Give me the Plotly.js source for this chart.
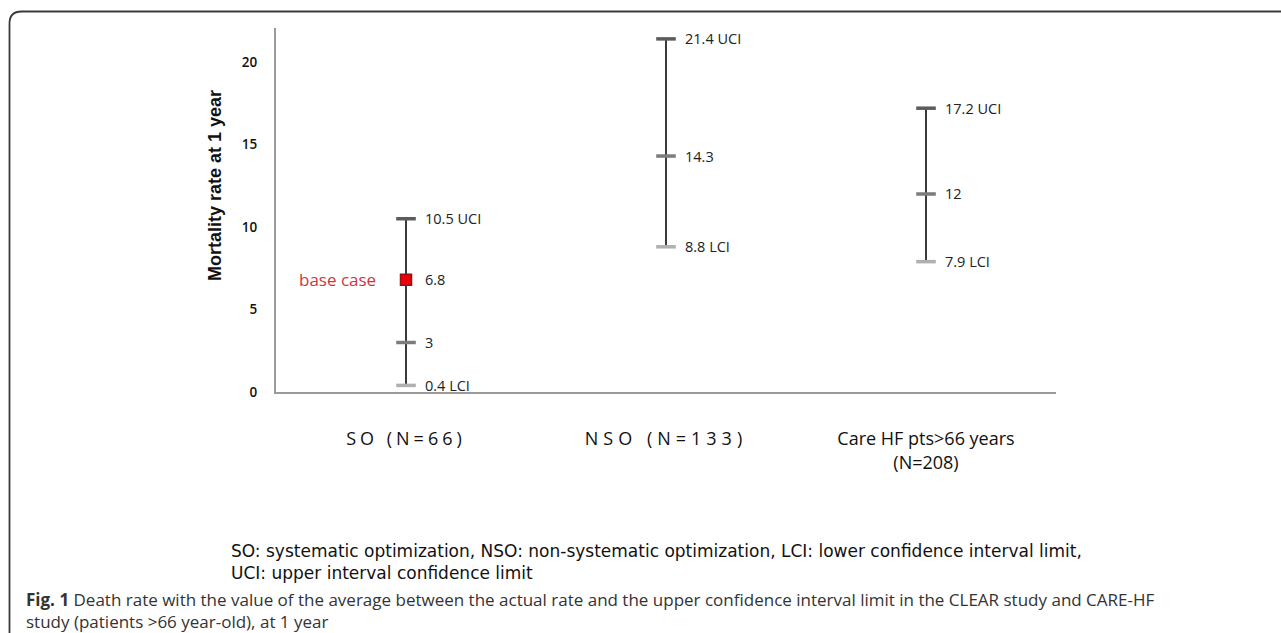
<!DOCTYPE html>
<html>
<head>
<meta charset="utf-8">
<script src="https://cdn.plot.ly/plotly-3.0.1.min.js"></script>
<style>
  html, body { margin: 0; padding: 0; background: #fff; }
  #chart { width: 1281px; height: 633px; }
</style>
</head>
<body>
<div id="chart"></div>
<script>
// ---- data ----
const categories = ['SO (N=66)', 'NSO (N=133)', 'Care HF pts>66 years<br>(N=208)'];
const uciValues = [10.5, 21.4, 17.2];
const rateValues = [3, 14.3, 12];
const lciValues = [0.4, 8.8, 7.9];
const uciLabels = ['10.5 UCI', '21.4 UCI', '17.2 UCI'];
const rateLabels = ['3', '14.3', '12'];
const lciLabels = ['0.4 LCI', '8.8 LCI', '7.9 LCI'];
const baseCaseCategory = ['SO (N=66)'];
const baseCaseValue = [6.8];
const baseCaseLabel = ['6.8'];
const yTickVals = [0, 5, 10, 15, 20];
const yTitle = 'Mortality rate at 1 year';
const legendLines = ['SO: systematic optimization, NSO: non-systematic optimization, LCI: lower confidence interval limit,',
                     'UCI: upper interval confidence limit'];
const figLines = ['<b>Fig. 1</b> Death rate with the value of the average between the actual rate and the upper confidence interval limit in the CLEAR study and CARE-HF',
                  'study (patients >66 year-old), at 1 year'];

// ---- geometry helpers (pixel -> paper) ----
const L = 276, R = 1056, T = 28, B = 392;
const W = R - L, H = B - T;
const px = p => (p - L) / W;
const py = p => (B - p) / H;

const labelFont = {family: 'Open Sans, sans-serif', size: 14.5, color: '#222'};

const traces = [
  { // whisker line
    type: 'scatter', mode: 'markers', x: categories,
    y: lciValues,
    marker: {size: 1, color: 'rgba(0,0,0,0)'},
    error_y: {type: 'data', symmetric: false,
      array: uciValues.map((u, i) => u - lciValues[i]),
      arrayminus: lciValues.map(() => 0),
      color: '#3a3a3a', thickness: 2, width: 0},
    hoverinfo: 'skip', showlegend: false
  },
  { type: 'scatter', mode: 'markers', x: categories, y: uciValues,
    marker: {symbol: 'line-ew', size: 14, line: {width: 3.5, color: '#5c5c5c'}},
    showlegend: false },
  { type: 'scatter', mode: 'markers', x: categories, y: rateValues,
    marker: {symbol: 'line-ew', size: 14, line: {width: 3.5, color: '#7c7c7c'}},
    showlegend: false },
  { type: 'scatter', mode: 'markers', x: categories, y: lciValues,
    marker: {symbol: 'line-ew', size: 14, line: {width: 3.5, color: '#b0b0b0'}},
    showlegend: false },
  { type: 'scatter', mode: 'markers', x: baseCaseCategory, y: baseCaseValue,
    marker: {symbol: 'square', size: 11, color: '#e8000b', line: {width: 1.5, color: '#9a1010'}},
    showlegend: false }
];

const annotations = [];
function addLabels(xs, ys, texts) {
  xs.forEach((x, i) => annotations.push({
    x: x, y: ys[i], xref: 'x', yref: 'y', text: texts[i], showarrow: false,
    xanchor: 'left', yanchor: 'middle', xshift: 17, font: labelFont
  }));
}
addLabels(categories, uciValues, uciLabels);
addLabels(categories, rateValues, rateLabels);
addLabels(categories, lciValues, lciLabels);
addLabels(baseCaseCategory, baseCaseValue, baseCaseLabel);
annotations.push({
  x: baseCaseCategory[0], y: baseCaseValue[0], xref: 'x', yref: 'y', text: 'base case',
  showarrow: false, xanchor: 'right', yanchor: 'middle', xshift: -28,
  font: {family: 'Open Sans, sans-serif', size: 17, color: '#d0343c'}
});
annotations.push({
  x: px(215), y: py(186), xref: 'paper', yref: 'paper', text: '<b>' + yTitle + '</b>',
  textangle: -90, showarrow: false, xanchor: 'center', yanchor: 'middle',
  font: {family: 'Liberation Sans, Arial, sans-serif', size: 18, color: '#111'}
});
annotations.push({
  x: px(229), y: py(539), xref: 'paper', yref: 'paper', text: legendLines.join('<br>'),
  showarrow: false, xanchor: 'left', yanchor: 'top', align: 'left',
  font: {family: 'DejaVu Sans, sans-serif', size: 17, color: '#111'}
});
annotations.push({
  x: px(24), y: py(586), xref: 'paper', yref: 'paper', text: figLines.join('<br>'),
  showarrow: false, xanchor: 'left', yanchor: 'top', align: 'left',
  font: {family: 'Open Sans, sans-serif', size: 17, color: '#333'}
});

const frame = 'M ' + px(9.5) + ',' + py(650) +
  ' L ' + px(9.5) + ',' + py(23.5) +
  ' Q ' + px(9.5) + ',' + py(11.5) + ' ' + px(21.5) + ',' + py(11.5) +
  ' L ' + px(1295) + ',' + py(11.5);

const layout = {
  width: 1281, height: 633,
  margin: {l: L, r: 1281 - R, t: T, b: 633 - B, pad: 0},
  paper_bgcolor: '#fff', plot_bgcolor: '#fff',
  showlegend: false,
  xaxis: {
    type: 'category', range: [-0.5, 2.5], showgrid: false, zeroline: false,
    showline: true, linecolor: '#9a9a9a', linewidth: 1.5,
    ticks: '', ticklabelstandoff: 30,
    tickfont: {family: 'Open Sans, sans-serif', size: 18, color: '#111'}
  },
  yaxis: {
    range: [0, 22.06], tickvals: yTickVals, showgrid: false, zeroline: false,
    showline: true, linecolor: '#9a9a9a', linewidth: 2,
    ticks: '', ticklabelstandoff: 14,
    tickfont: {family: 'Open Sans, sans-serif', size: 13.5, color: '#111', weight: 600}
  },
  shapes: [{type: 'path', xref: 'paper', yref: 'paper', path: frame,
    line: {color: '#3a3a3a', width: 1.8}}],
  annotations: annotations
};

Plotly.newPlot('chart', traces, layout, {staticPlot: true, displayModeBar: false}).then(gd => {
  // the reference draws the two short category labels with wider letter spacing
  gd.querySelectorAll('.xtick text').forEach(t => {
    const s = t.textContent;
    if (s.indexOf('SO (') === 0) t.style.letterSpacing = '4px';
    else if (s.indexOf('NSO (') === 0) t.style.letterSpacing = '5px';
  });
});
</script>
</body>
</html>
